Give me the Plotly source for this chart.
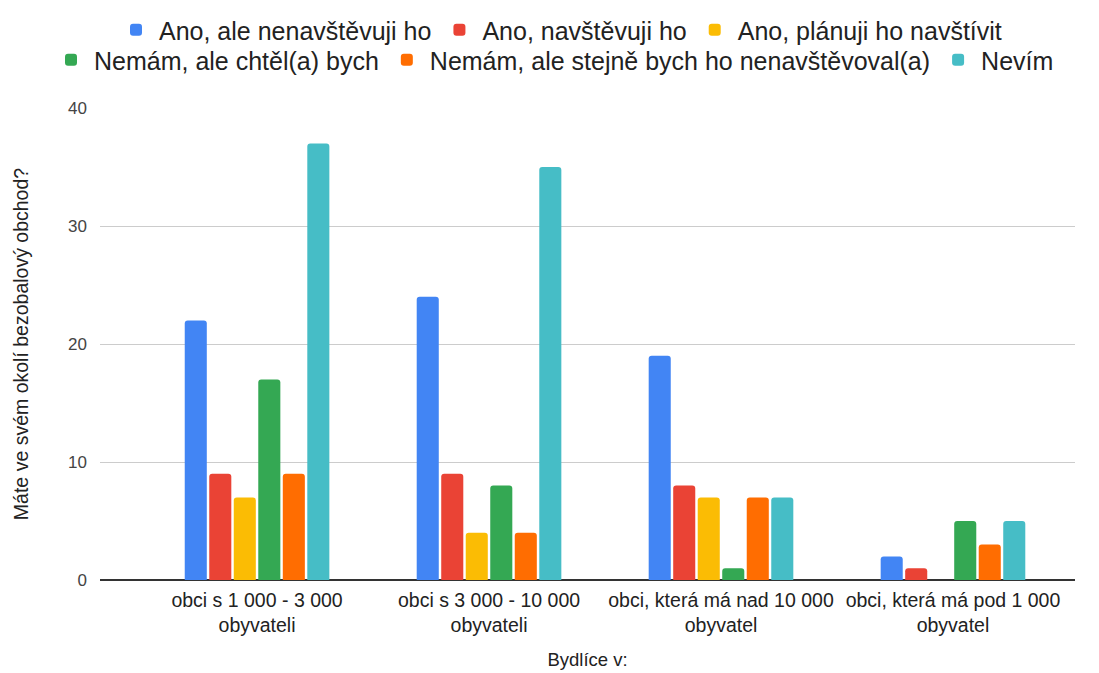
import plotly.graph_objects as go

categories = [
    "obci s 1 000 - 3 000<br>obyvateli",
    "obci s 3 000 - 10 000<br>obyvateli",
    "obci, která má nad 10 000<br>obyvatel",
    "obci, která má pod 1 000<br>obyvatel",
]
series_names = [
    "Ano, ale nenavštěvuji ho",
    "Ano, navštěvuji ho",
    "Ano, plánuji ho navštívit",
    "Nemám, ale chtěl(a) bych",
    "Nemám, ale stejně bych ho nenavštěvoval(a)",
    "Nevím",
]
ano_ale_nenavstevuji = [22, 24, 19, 2]
ano_navstevuji = [9, 9, 8, 1]
ano_planuji = [7, 4, 7, 0]
nemam_chtel = [17, 8, 1, 5]
nemam_nenavstevoval = [9, 4, 7, 3]
nevim = [37, 35, 7, 5]
series_values = [ano_ale_nenavstevuji, ano_navstevuji, ano_planuji,
                 nemam_chtel, nemam_nenavstevoval, nevim]
colors = ["#4285F4", "#EA4335", "#FBBC04", "#34A853", "#FF6D01", "#46BDC6"]

FONT = "Arial, Liberation Sans, sans-serif"

fig = go.Figure()
for i, (name, vals, col) in enumerate(zip(series_names, series_values, colors)):
    fig.add_trace(go.Bar(
        name=name, x=list(range(len(categories))), y=vals,
        marker=dict(color=col, cornerradius=3, line=dict(width=0)),
        legend="legend" if i < 3 else "legend2",
    ))

W, H = 1091, 665
ML, MR, MT, MB = 92, 24, 100, 93
PW, PH = W - ML - MR, H - MT - MB
legend_common = dict(orientation="h", yanchor="top", font=dict(size=25, color="#222"),
                     itemwidth=36, bgcolor="rgba(0,0,0,0)")
fig.update_layout(
    width=W, height=H,
    paper_bgcolor="white", plot_bgcolor="white",
    margin=dict(l=ML, r=MR, t=MT, b=MB, autoexpand=False),
    barmode="group", bargap=0.366, bargroupgap=0.1,
    font=dict(family=FONT, color="#222"),
    legend=dict(legend_common, x=(552 - ML) / PW, xanchor="center", y=1 + (MT + 1) / PH),
    legend2=dict(legend_common, x=-52 / PW, xanchor="left", y=1 + (MT - 29) / PH),
    showlegend=True,
)

fig.update_xaxes(
    tickmode="array", tickvals=list(range(len(categories))), ticktext=categories,
    range=[-0.677, 3.526], showgrid=False, showline=False, zeroline=False,
    tickfont=dict(size=19.5, color="#222"), ticks="", ticklabelstandoff=6,
    automargin=False,
    title=dict(text="Bydlíce v:", font=dict(size=18.5, color="#222"), standoff=18),
)
fig.update_yaxes(
    range=[0, 40], tickvals=[0, 10, 20, 30, 40],
    showgrid=True, gridcolor="#cccccc", gridwidth=1,
    zeroline=True, zerolinecolor="#333333", zerolinewidth=2,
    showline=False, ticks="", tickfont=dict(size=17, color="#444"),
    ticklabelstandoff=12, automargin=False,
    title=dict(text="Máte ve svém okolí bezobalový obchod?" + "\u00a0" * 9,
               font=dict(size=19.5, color="#222"), standoff=34),
)

fig.write_html("out.html")
